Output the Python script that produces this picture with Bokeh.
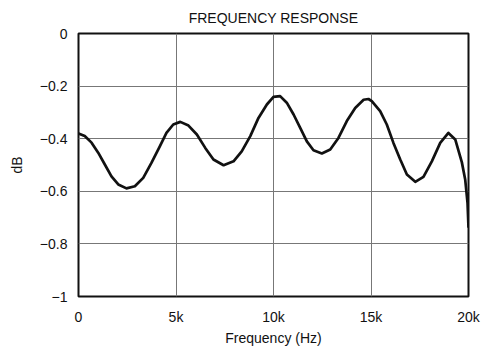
from bokeh.plotting import figure
from bokeh.models import FixedTicker, Range1d, ColumnDataSource, Spacer
from bokeh.layouts import row
from bokeh.embed import file_html
from bokeh.resources import INLINE

# Frequency (kHz) and response (dB)
freq_khz = [0.0, 0.32, 0.67, 1.01, 1.35, 1.69, 2.04, 2.46, 2.89, 3.32, 3.74, 4.17,
            4.51, 4.86, 5.22, 5.64, 6.07, 6.50, 6.92, 7.44, 7.95, 8.37, 8.81, 9.23,
            9.66, 10.00, 10.34, 10.68, 11.03, 11.37, 11.71, 12.05, 12.48, 12.91,
            13.33, 13.76, 14.19, 14.62, 14.87, 15.04, 15.47, 15.81, 16.15, 16.50,
            16.84, 17.27, 17.69, 18.12, 18.55, 18.97, 19.32, 19.66, 19.83, 19.95,
            20.0]
response_db = [-0.380, -0.390, -0.415, -0.453, -0.498, -0.543, -0.574, -0.589,
               -0.581, -0.549, -0.492, -0.429, -0.378, -0.346, -0.336, -0.350,
               -0.384, -0.435, -0.479, -0.501, -0.486, -0.448, -0.390, -0.321,
               -0.270, -0.241, -0.238, -0.263, -0.308, -0.359, -0.410, -0.444,
               -0.456, -0.441, -0.397, -0.333, -0.283, -0.252, -0.249, -0.257,
               -0.295, -0.346, -0.416, -0.479, -0.536, -0.564, -0.545, -0.486,
               -0.416, -0.378, -0.403, -0.490, -0.555, -0.644, -0.738]

x_ticks = [0, 5, 10, 15, 20]
x_tick_labels = ["0", "5k", "10k", "15k", "20k"]
y_ticks = [0, -0.2, -0.4, -0.6, -0.8, -1]
y_tick_labels = ["0", "\u22120.2", "\u22120.4", "\u22120.6", "\u22120.8", "\u22121"]

FONT = "Liberation Sans"

p = figure(frame_width=390, frame_height=263, output_backend="svg",
           toolbar_location=None,
           x_range=Range1d(0, 20), y_range=Range1d(-1, 0),
           min_border_left=20, min_border_right=15, min_border_top=10,
           min_border_bottom=20, title="FREQUENCY RESPONSE")

p.title.align = "center"
p.title.offset = 2
p.title.text_font = FONT
p.title.text_font_size = "14px"
p.title.text_font_style = "normal"
p.title.text_color = "#111111"
p.title.standoff = 15

p.outline_line_color = "#111111"
p.outline_line_width = 2
p.background_fill_color = "white"
p.border_fill_color = "white"

p.xaxis.ticker = FixedTicker(ticks=x_ticks)
p.xaxis.major_label_overrides = {t: l for t, l in zip(x_ticks, x_tick_labels)}
p.yaxis.ticker = FixedTicker(ticks=y_ticks)
p.yaxis.major_label_overrides = {t: l for t, l in zip(y_ticks, y_tick_labels)}

p.xaxis.axis_label = "Frequency (Hz)"
p.yaxis.axis_label = "dB"

for ax in (p.xaxis[0], p.yaxis[0]):
    ax.axis_line_color = None
    ax.major_tick_line_color = None
    ax.minor_tick_line_color = None
    ax.major_tick_out = 0
    ax.major_tick_in = 0
    ax.minor_tick_out = 0
    ax.minor_tick_in = 0
    ax.major_label_text_font = FONT
    ax.major_label_text_font_size = "14px"
    ax.major_label_text_color = "#111111"
    ax.axis_label_text_font = FONT
    ax.axis_label_text_font_size = "14px"
    ax.axis_label_text_font_style = "normal"
    ax.axis_label_text_color = "#111111"

p.xaxis.major_label_standoff = 12
p.xaxis.axis_label_standoff = 2
p.yaxis.major_label_standoff = 11
p.yaxis.axis_label_standoff = 12

p.grid.grid_line_color = "#777777"
p.grid.grid_line_width = 1

src = ColumnDataSource(dict(x=freq_khz, y=response_db))
p.line("x", "y", source=src, line_color="#111111", line_width=2.7,
       line_join="round")

layout = row(Spacer(width=5, height=10), p)

open("out.html", "w").write(file_html(layout, INLINE))
